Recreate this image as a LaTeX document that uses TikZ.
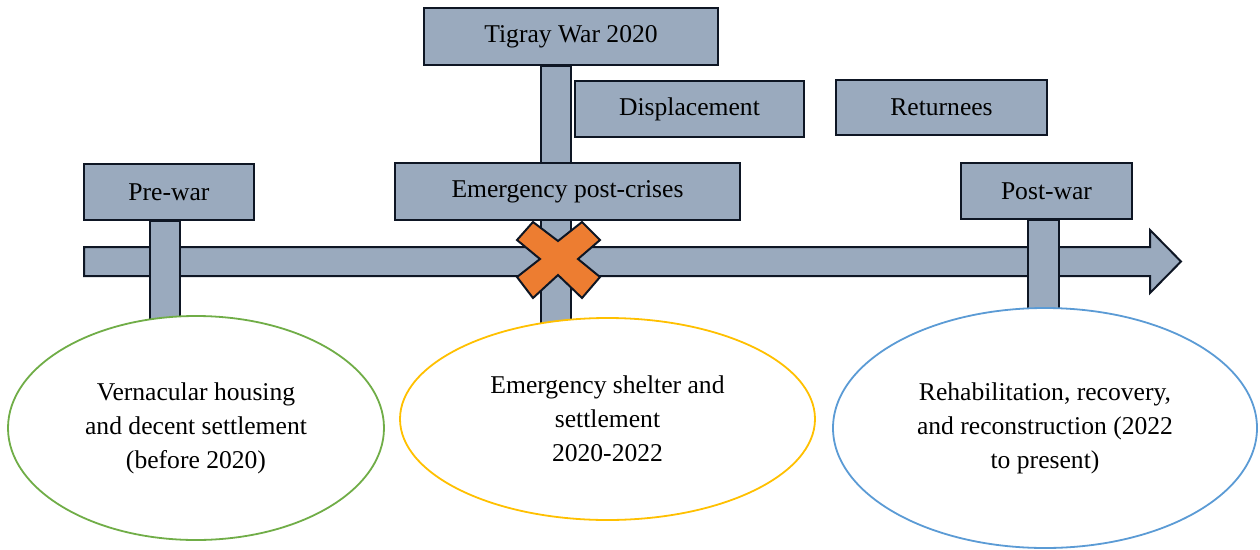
\documentclass[tikz,border=0pt]{standalone}
\usepackage{fontspec}
\setmainfont{Liberation Serif}
\usetikzlibrary{shapes.geometric}
\definecolor{bar}{RGB}{154,170,190}
\definecolor{edge}{RGB}{14,22,36}
\definecolor{xorange}{RGB}{237,125,49}
\definecolor{egreen}{RGB}{112,173,71}
\definecolor{eyellow}{RGB}{255,192,0}
\definecolor{eblue}{RGB}{91,155,213}
\pgfdeclarelayer{back}
\pgfsetlayers{back,main}
\begin{document}
\begin{tikzpicture}[x=1pt,y=-1pt,
  labelbox/.style={draw=edge, line width=2pt, fill=bar, inner sep=0pt,
    font=\fontsize{25.6}{30}\selectfont},
  barpart/.style={draw=edge, line width=2pt, fill=bar},
  phase/.style={ellipse, line width=1.8pt, fill=white, inner sep=0pt, align=center,
    font=\fontsize{25.6}{34}\selectfont},
]
\useasboundingbox (0,0) rectangle (1260,549);

% boxes
\node[labelbox, minimum width=170pt, minimum height=56pt] (pre) at (169,192) {Pre-war};
\node[labelbox, minimum width=294pt, minimum height=57pt] (tigray) at (571,36.5) {Tigray War 2020};
\node[labelbox, minimum width=229pt, minimum height=56pt] (disp) at (689.5,109) {Displacement};
\node[labelbox, minimum width=211pt, minimum height=55pt] (ret) at (941.5,107.5) {Returnees};
\node[labelbox, minimum width=171pt, minimum height=56pt] (post) at (1046.5,191) {Post-war};

% ellipses
\node[phase, draw=egreen, minimum width=376pt, minimum height=224pt] (vern) at (196,428)
  {Vernacular housing\\and decent settlement\\(before 2020)};
\node[phase, draw=eyellow, minimum width=415pt, minimum height=202pt] (shelter) at (607.5,419)
  {Emergency shelter and\\settlement\\2020-2022};
\node[phase, draw=eblue, minimum width=424pt, minimum height=240pt] (rehab) at (1045,428)
  {Rehabilitation, recovery,\\and reconstruction (2022\\to present)};

% timeline and stems on the back layer
\begin{pgfonlayer}{back}
  \coordinate (start) at (84,261.5);
  \draw[barpart, line join=miter] (start) ++(0,-14.5) -- ++(1066,0) -- ++(0,-17)
    -- ++(31,31.5) -- ++(-31,31.5) -- ++(0,-17) -- ++(-1066,0) -- cycle;
  \draw[barpart] (150,0 |- pre.south) rectangle ([yshift=-10pt]180,0 |- vern.north);
  \draw[barpart] (541,0 |- tigray.south) rectangle ([yshift=-10pt]571,0 |- shelter.north);
  \draw[barpart] (1028,0 |- post.south) rectangle ([yshift=-10pt]1059,0 |- rehab.north);
\end{pgfonlayer}

\node[labelbox, minimum width=345pt, minimum height=57pt] (emerg) at (567.5,191.5) {Emergency post-crises};

% orange cross marking the war
\coordinate (war) at (558,259);
\draw[draw=edge, line width=2pt, fill=xorange, line join=miter]
  (war) ++(-41,-19) -- ++(16,-18) -- ++(25,19) -- ++(24,-19) -- ++(18,18)
  -- ++(-22,19) -- ++(22,18) -- ++(-18,21) -- ++(-24,-23) -- ++(-25,23)
  -- ++(-16,-21) -- ++(23,-18) -- cycle;
\end{tikzpicture}
\end{document}
